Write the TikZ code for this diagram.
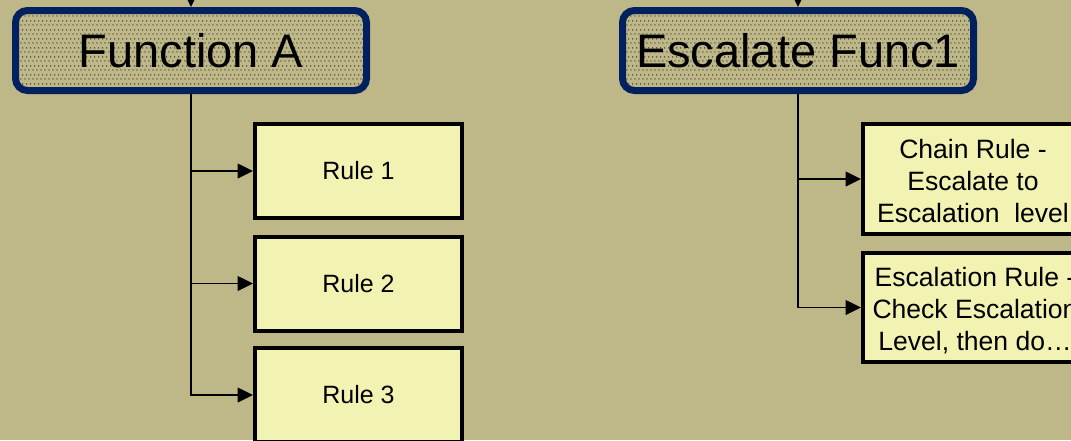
\documentclass[tikz,border=0pt]{standalone}
\usepackage{fontspec}
\setmainfont{Liberation Sans}
\usetikzlibrary{arrows.meta,patterns.meta}
\definecolor{bg}{RGB}{190,183,135}
\definecolor{rulefill}{RGB}{242,242,179}
\definecolor{navy}{RGB}{0,32,96}
\definecolor{dotcol}{RGB}{40,40,35}
\pgfdeclarepattern{
  name=mydots,
  type=uncolored,
  bottom left={\pgfpoint{0pt}{0pt}},
  top right={\pgfpoint{3.2pt}{6.4pt}},
  tile size={\pgfpoint{3.2pt}{6.4pt}},
  code={
    \pgfpathcircle{\pgfpoint{0.8pt}{1.6pt}}{0.55pt}
    \pgfpathcircle{\pgfpoint{2.4pt}{4.8pt}}{0.55pt}
    \pgfusepath{fill}
  }
}
\tikzset{
  funcbox/.style={draw=navy, line width=5.25pt, rounded corners=9pt,
    preaction={fill=bg}, pattern=mydots, pattern color=dotcol,
    minimum width=263.25pt, minimum height=60pt, inner sep=0pt,
    font=\fontsize{35.25}{40}\selectfont},
  rulebox/.style={draw=black, line width=3pt, fill=rulefill,
    minimum width=155.25pt, minimum height=70.5pt, inner sep=0pt,
    font=\fontsize{18.75}{22}\selectfont},
  widebox/.style={draw=black, line width=3pt, fill=rulefill,
    minimum width=166.5pt, inner sep=0pt},
  rtext/.style={align=center, font=\fontsize{19.9}{24}\selectfont, inner sep=0pt},
  conn/.style={line width=1.1pt, -{Triangle[length=11.5pt,width=11pt]}}
}
\begin{document}
\begin{tikzpicture}[x=0.75pt,y=-0.75pt]
\useasboundingbox (0,0) rectangle (1071,440);
\clip (0,0) rectangle (1071,440);
\fill[bg] (0,0) rectangle (1071,440);

% left tree
\node[funcbox] (fa) at (191,50.5) {Function A};
\node[rulebox] (r1) at (358.5,171) {Rule 1};
\node[rulebox] (r2) at (358.5,283.5) {Rule 2};
\node[rulebox] (r3) at (358.5,395) {Rule 3};
\coordinate (ina) at (191,-40);
\draw[conn] (ina) -- (fa.north);
\draw[conn] (fa.south) |- (r1.west);
\draw[conn] (fa.south) |- (r2.west);
\draw[conn] (fa.south) |- (r3.west);

% right tree
\node[funcbox] (fb) at (798,50.5) {Escalate Func1};
\node[widebox, minimum height=82.5pt] (c1) at (974,179) {};
\node[widebox, minimum height=81.75pt] (c2) at (974,307.5) {};
\node[rtext] (t1) at (973,181) {Chain Rule -\\Escalate to\\Escalation~~level};
\node[rtext] (t2) at (975,311) {Escalation Rule -\\Check Escalation\\Level, then do…};
\coordinate (inb) at (798,-40);
\draw[conn] (inb) -- (fb.north);
\draw[conn] (fb.south) |- (c1.west);
\draw[conn] (fb.south) |- (c2.west);
\end{tikzpicture}
\end{document}
